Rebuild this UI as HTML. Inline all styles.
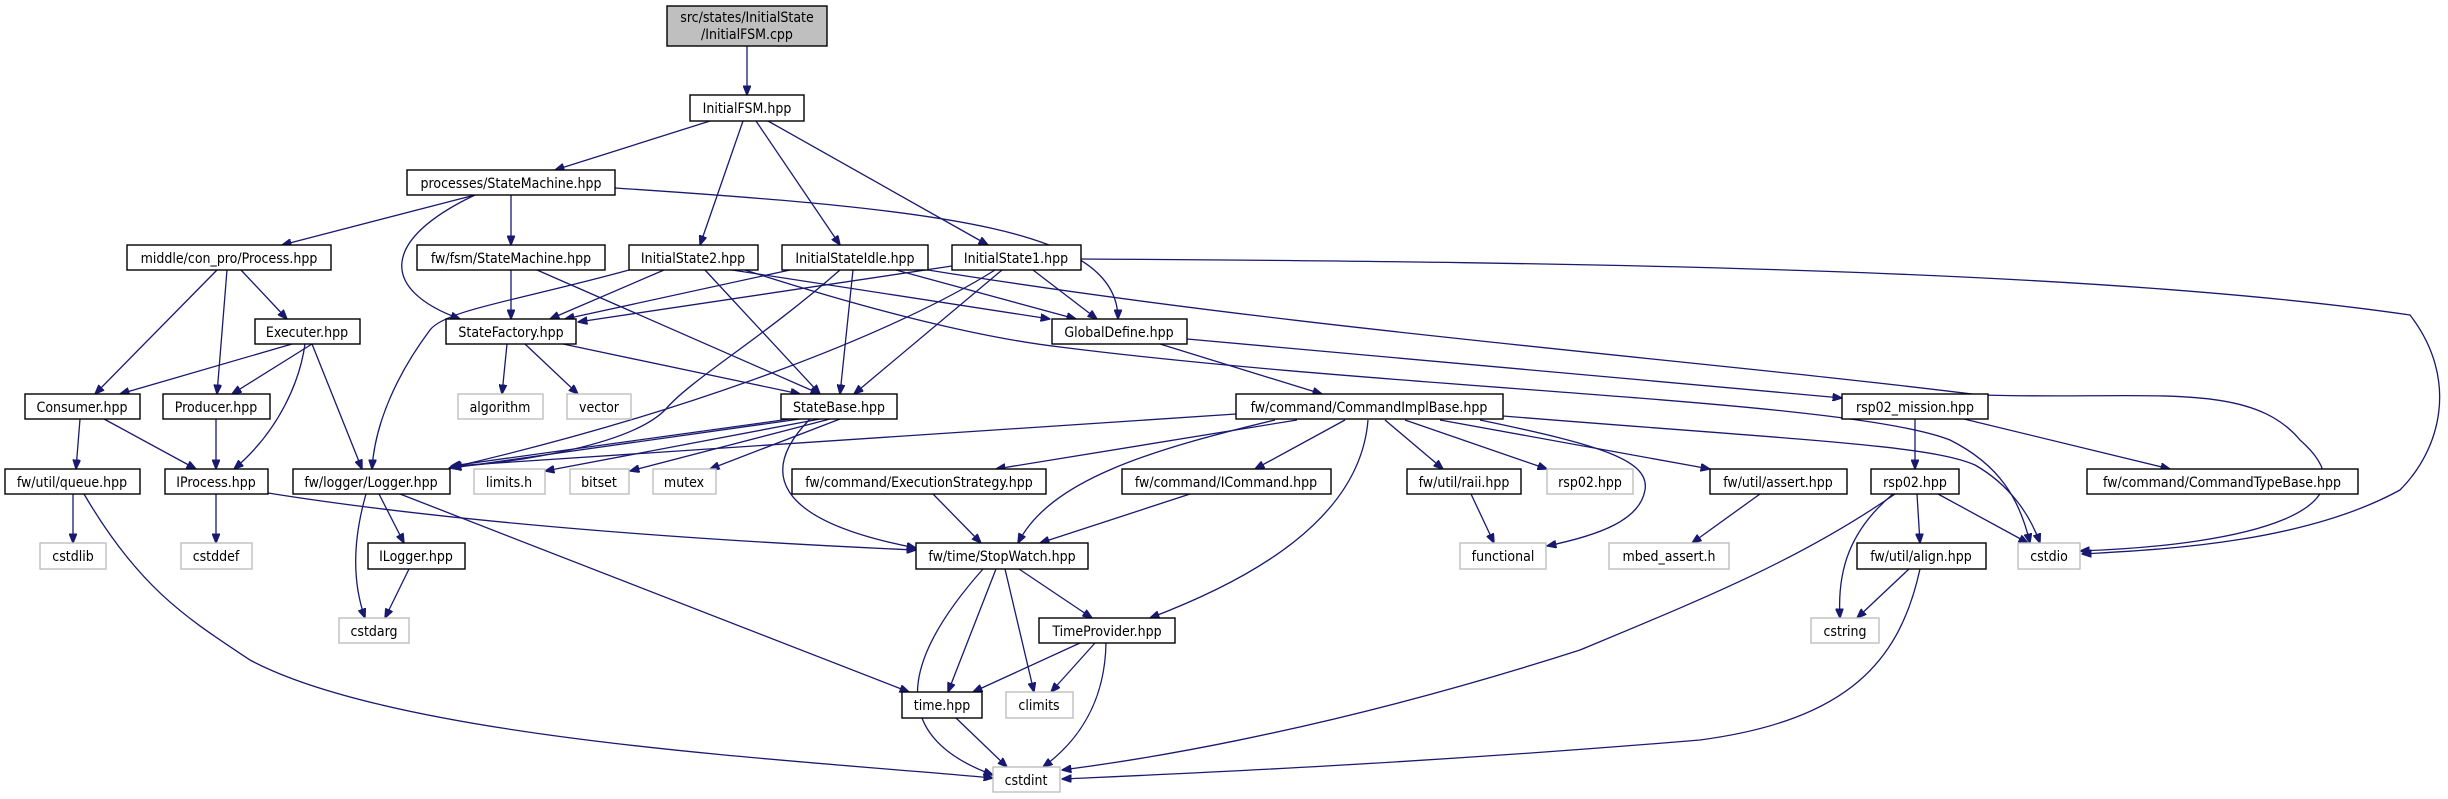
<!DOCTYPE html>
<html><head><meta charset="utf-8"><style>
html,body{margin:0;padding:0;background:#fff;}
svg{display:block;}
text{font-family:"DejaVu Sans Condensed","DejaVu Sans","Liberation Sans",sans-serif;font-size:14px;fill:#000;text-anchor:middle;}
.n{fill:#fff;stroke:#000;stroke-width:1.4;}
.g{fill:#fff;stroke:#bfbfbf;stroke-width:1.4;}
.e{fill:none;stroke:#191970;stroke-width:1.3;marker-end:url(#a);}
</style></head><body>
<svg width="2448" height="799" viewBox="0 0 2448 799" xmlns="http://www.w3.org/2000/svg">
<defs><marker id="a" markerWidth="10" markerHeight="8" refX="9.5" refY="4" orient="auto" markerUnits="userSpaceOnUse"><path d="M0,0 L10,4 L0,8 z" fill="#191970" stroke="#191970"/></marker></defs>
<g>
<path class="e" d="M747,46 L747,95"/>
<path class="e" d="M710,121 L555,170"/>
<path class="e" d="M743,121 L700,245"/>
<path class="e" d="M756,121 L840,245"/>
<path class="e" d="M768,121 L988,245"/>
<path class="e" d="M475,195 L282,245"/>
<path class="e" d="M475,195 C380,240 380,290 460,319"/>
<path class="e" d="M511,195 L511,245"/>
<path class="e" d="M615,188 C950,210 1118,230 1118,319"/>
<path class="e" d="M217,270 L95,394"/>
<path class="e" d="M227,270 L217,394"/>
<path class="e" d="M241,270 L287,319"/>
<path class="e" d="M511,270 L511,319"/>
<path class="e" d="M537,270 L820,394"/>
<path class="e" d="M664,270 L550,319"/>
<path class="e" d="M629,270 C520,300 445,310 430,330 C400,370 375,420 372,469"/>
<path class="e" d="M705,270 L820,394"/>
<path class="e" d="M732,270 L1050,319"/>
<path class="e" d="M745,270 C900,320 1000,340 1060,347 C1400,390 1850,400 1950,440 C2000,465 2020,500 2030,543"/>
<path class="e" d="M790,270 L565,319"/>
<path class="e" d="M840,270 C760,340 690,380 665,410 C630,445 520,462 452,467"/>
<path class="e" d="M853,270 L840,394"/>
<path class="e" d="M896,270 L1076,319"/>
<path class="e" d="M928,270 C1300,330 1700,360 1980,395 C2150,400 2250,380 2300,440 C2380,510 2250,545 2080,551"/>
<path class="e" d="M1081,259 C1600,262 2100,270 2410,315 C2460,380 2440,450 2400,490 C2300,545 2150,550 2082,554"/>
<path class="e" d="M952,266 L578,322"/>
<path class="e" d="M995,270 C900,330 700,410 449,468"/>
<path class="e" d="M1002,270 L854,394"/>
<path class="e" d="M1033,270 L1097,319"/>
<path class="e" d="M292,344 L120,394"/>
<path class="e" d="M312,344 L232,394"/>
<path class="e" d="M305,344 C300,380 280,430 234,469"/>
<path class="e" d="M312,344 L362,469"/>
<path class="e" d="M507,344 L502,394"/>
<path class="e" d="M525,344 L578,394"/>
<path class="e" d="M563,344 L800,394"/>
<path class="e" d="M1160,344 L1322,394"/>
<path class="e" d="M1187,339 L1842,398"/>
<path class="e" d="M80,419 L76,469"/>
<path class="e" d="M104,419 L196,469"/>
<path class="e" d="M216,419 L216,469"/>
<path class="e" d="M790,419 L451,466"/>
<path class="e" d="M800,419 L452,468"/>
<path class="e" d="M820,419 L545,471"/>
<path class="e" d="M830,419 L630,471"/>
<path class="e" d="M840,419 L710,469"/>
<path class="e" d="M810,419 C760,470 770,520 916,548"/>
<path class="e" d="M1236,414 L452,466"/>
<path class="e" d="M1297,420 L996,469"/>
<path class="e" d="M1275,420 C1150,450 1050,480 1018,543"/>
<path class="e" d="M1345,420 L1255,469"/>
<path class="e" d="M1368,420 C1360,520 1250,580 1150,618"/>
<path class="e" d="M1385,420 L1443,469"/>
<path class="e" d="M1405,420 L1547,469"/>
<path class="e" d="M1480,420 C1600,445 1650,460 1645,490 C1640,520 1600,535 1547,546"/>
<path class="e" d="M1440,420 L1710,469"/>
<path class="e" d="M1503,416 C1800,440 1930,445 1975,465 C2010,485 2030,515 2040,543"/>
<path class="e" d="M1915,419 L1915,469"/>
<path class="e" d="M1964,419 L2170,469"/>
<path class="e" d="M73,494 L73,543"/>
<path class="e" d="M84,494 C140,590 190,620 250,660 C400,740 800,760 993,778"/>
<path class="e" d="M216,494 L216,543"/>
<path class="e" d="M268,493 C500,530 800,545 916,550"/>
<path class="e" d="M366,494 C350,550 355,590 365,618"/>
<path class="e" d="M379,494 L404,543"/>
<path class="e" d="M400,494 L909,692"/>
<path class="e" d="M409,569 L385,618"/>
<path class="e" d="M933,494 L981,543"/>
<path class="e" d="M1190,494 L1040,543"/>
<path class="e" d="M1471,494 L1494,543"/>
<path class="e" d="M1760,494 L1692,543"/>
<path class="e" d="M1895,494 C1800,560 1700,600 1580,650 C1300,740 1100,765 1062,770"/>
<path class="e" d="M1893,494 C1850,530 1837,570 1840,618"/>
<path class="e" d="M1917,494 L1920,543"/>
<path class="e" d="M1938,494 L2028,543"/>
<path class="e" d="M983,569 C920,640 870,730 993,775"/>
<path class="e" d="M996,569 L948,692"/>
<path class="e" d="M1005,569 L1034,692"/>
<path class="e" d="M1019,569 L1092,618"/>
<path class="e" d="M1080,643 L973,692"/>
<path class="e" d="M1095,643 L1051,692"/>
<path class="e" d="M1106,643 C1105,700 1080,740 1043,767"/>
<path class="e" d="M956,718 L1007,767"/>
<path class="e" d="M1909,569 L1857,618"/>
<path class="e" d="M1920,569 C1900,660 1850,720 1700,740 C1400,765 1150,775 1062,779"/>
</g>
<g>
<rect x="667" y="6" width="160" height="40" fill="#bfbfbf" stroke="#000" stroke-width="1.4"/>
<text x="747" y="22">src/states/InitialState</text><text x="747" y="39">/InitialFSM.cpp</text>
<rect class="n" x="690" y="95" width="114" height="26"/><text x="747" y="113">InitialFSM.hpp</text>
<rect class="n" x="407" y="170" width="208" height="25"/><text x="511" y="188">processes/StateMachine.hpp</text>
<rect class="n" x="127" y="245" width="204" height="25"/><text x="229" y="263">middle/con_pro/Process.hpp</text>
<rect class="n" x="417" y="245" width="188" height="25"/><text x="511" y="263">fw/fsm/StateMachine.hpp</text>
<rect class="n" x="629" y="245" width="129" height="25"/><text x="693" y="263">InitialState2.hpp</text>
<rect class="n" x="782" y="245" width="146" height="25"/><text x="855" y="263">InitialStateIdle.hpp</text>
<rect class="n" x="952" y="245" width="129" height="25"/><text x="1016" y="263">InitialState1.hpp</text>
<rect class="n" x="255" y="319" width="105" height="25"/><text x="307" y="337">Executer.hpp</text>
<rect class="n" x="446" y="319" width="130" height="25"/><text x="511" y="337">StateFactory.hpp</text>
<rect class="n" x="1052" y="319" width="135" height="25"/><text x="1119" y="337">GlobalDefine.hpp</text>
<rect class="n" x="25" y="394" width="115" height="25"/><text x="82" y="412">Consumer.hpp</text>
<rect class="n" x="163" y="394" width="107" height="25"/><text x="216" y="412">Producer.hpp</text>
<rect class="g" x="458" y="394" width="85" height="25"/><text x="500" y="412">algorithm</text>
<rect class="g" x="567" y="394" width="64" height="25"/><text x="599" y="412">vector</text>
<rect class="n" x="781" y="394" width="116" height="25"/><text x="839" y="412">StateBase.hpp</text>
<rect class="n" x="1236" y="394" width="267" height="25"/><text x="1369" y="412">fw/command/CommandImplBase.hpp</text>
<rect class="n" x="1842" y="394" width="146" height="25"/><text x="1915" y="412">rsp02_mission.hpp</text>
<rect class="n" x="5" y="469" width="135" height="25"/><text x="72" y="487">fw/util/queue.hpp</text>
<rect class="n" x="165" y="469" width="103" height="25"/><text x="216" y="487">IProcess.hpp</text>
<rect class="n" x="293" y="469" width="157" height="25"/><text x="371" y="487">fw/logger/Logger.hpp</text>
<rect class="g" x="474" y="469" width="71" height="25"/><text x="509" y="487">limits.h</text>
<rect class="g" x="570" y="469" width="59" height="25"/><text x="599" y="487">bitset</text>
<rect class="g" x="653" y="469" width="63" height="25"/><text x="684" y="487">mutex</text>
<rect class="n" x="792" y="469" width="254" height="25"/><text x="919" y="487">fw/command/ExecutionStrategy.hpp</text>
<rect class="n" x="1122" y="469" width="209" height="25"/><text x="1226" y="487">fw/command/ICommand.hpp</text>
<rect class="n" x="1407" y="469" width="114" height="25"/><text x="1464" y="487">fw/util/raii.hpp</text>
<rect class="g" x="1547" y="469" width="86" height="25"/><text x="1590" y="487">rsp02.hpp</text>
<rect class="n" x="1710" y="469" width="137" height="25"/><text x="1778" y="487">fw/util/assert.hpp</text>
<rect class="n" x="1871" y="469" width="88" height="25"/><text x="1915" y="487">rsp02.hpp</text>
<rect class="n" x="2087" y="469" width="271" height="25"/><text x="2222" y="487">fw/command/CommandTypeBase.hpp</text>
<rect class="g" x="40" y="543" width="66" height="26"/><text x="73" y="561">cstdlib</text>
<rect class="g" x="181" y="543" width="71" height="26"/><text x="216" y="561">cstddef</text>
<rect class="n" x="368" y="543" width="97" height="26"/><text x="416" y="561">ILogger.hpp</text>
<rect class="n" x="916" y="543" width="172" height="26"/><text x="1002" y="561">fw/time/StopWatch.hpp</text>
<rect class="g" x="1460" y="543" width="86" height="26"/><text x="1503" y="561">functional</text>
<rect class="g" x="1609" y="543" width="120" height="26"/><text x="1669" y="561">mbed_assert.h</text>
<rect class="n" x="1857" y="543" width="129" height="26"/><text x="1921" y="561">fw/util/align.hpp</text>
<rect class="g" x="2018" y="543" width="62" height="26"/><text x="2049" y="561">cstdio</text>
<rect class="g" x="339" y="618" width="70" height="25"/><text x="374" y="636">cstdarg</text>
<rect class="n" x="1039" y="618" width="136" height="25"/><text x="1107" y="636">TimeProvider.hpp</text>
<rect class="g" x="1811" y="618" width="68" height="25"/><text x="1845" y="636">cstring</text>
<rect class="n" x="902" y="692" width="80" height="26"/><text x="942" y="710">time.hpp</text>
<rect class="g" x="1006" y="692" width="67" height="26"/><text x="1039" y="710">climits</text>
<rect class="g" x="993" y="767" width="67" height="25"/><text x="1026" y="785">cstdint</text>
</g>
</svg>
</body></html>
